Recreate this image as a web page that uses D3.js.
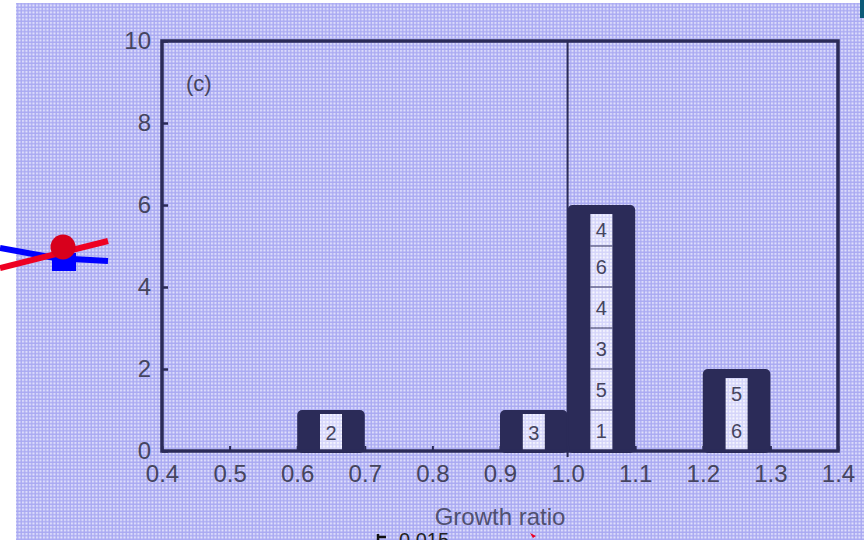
<!DOCTYPE html>
<html><head><meta charset="utf-8">
<script src="https://cdn.jsdelivr.net/npm/d3@7"></script>
<style>html,body{margin:0;padding:0;background:#fff;}svg{display:block;}</style>
</head><body>
<svg id="c" width="864" height="540"></svg>
<script>
// ---- data ----
const binStarts = [0.6, 0.9, 1.0, 1.2];
const binEnds   = [0.7, 1.0, 1.1, 1.3];
const counts    = [1, 1, 6, 2];
const cellLabels = [["2"], ["3"], ["1","5","3","4","6","4"], ["6","5"]]; // bottom to top
const xTicks = [0.4,0.5,0.6,0.7,0.8,0.9,1.0,1.1,1.2,1.3,1.4];
const yTicks = [0,2,4,6,8,10];
const refLine = 1.0;
const xTitle = "Growth ratio";
const panelTag = "(c)";

const svg = d3.select("#c");
const ink = "#2b2b58", txt = "#45455f";
const font = "'Liberation Sans', Arial, sans-serif";

const defs = svg.append("defs");
const pat = defs.append("pattern").attr("id","chk").attr("patternUnits","userSpaceOnUse")
  .attr("width",3.5).attr("height",3.5);
pat.append("rect").attr("width",3.5).attr("height",3.5).attr("fill","#a9a9f2");
pat.append("rect").attr("x",1).attr("y",1).attr("width",2).attr("height",2).attr("fill","#e4e4fc");
const pat2 = defs.append("pattern").attr("id","chk2").attr("patternUnits","userSpaceOnUse")
  .attr("width",3.5).attr("height",3.5);
pat2.append("rect").attr("width",3.5).attr("height",3.5).attr("fill","#d4d4fa");
pat2.append("rect").attr("x",1).attr("y",1).attr("width",2).attr("height",2).attr("fill","#fafaff");

// background
svg.append("rect").attr("x",16).attr("y",3).attr("width",848).attr("height",537).attr("fill","url(#chk)");
svg.append("rect").attr("x",860).attr("y",0).attr("width",4).attr("height",18).attr("fill","#0b5a78");

// fragment of neighbouring figure (left)
svg.append("path").attr("d","M0,248 L55,258 L108,261").attr("stroke","#0000ff").attr("stroke-width",6).attr("fill","none");
svg.append("rect").attr("x",52).attr("y",253).attr("width",24).attr("height",18).attr("fill","#0000ff");
svg.append("path").attr("d","M0,268 L108,241").attr("stroke","#ee0022").attr("stroke-width",6).attr("fill","none");
svg.append("circle").attr("cx",63).attr("cy",247).attr("r",12.5).attr("fill","#d8001c");

// bottom fragment (partly cut by the picture edge)
svg.append("path").attr("d","M378,540 L378,534 M378,537 L386,537").attr("stroke","#111").attr("stroke-width",2.5).attr("fill","none");
svg.append("text").attr("x",399).attr("y",547).attr("font-family",font).attr("font-size",20).attr("fill","#222").text("0.015");
svg.append("path").attr("d","M530,533 L536,536 L533,538 Z").attr("fill","#ee0022");

const x = d3.scaleLinear().domain([0.4,1.4]).range([162,838]);
const y = d3.scaleLinear().domain([0,10]).range([451,41]);

// bars
const bins = binStarts.map((s,i)=>({s, e:binEnds[i], n:counts[i], labels:cellLabels[i]}));
svg.append("g").selectAll("rect").data(bins).join("rect")
  .attr("x",d=>x(d.s)).attr("width",d=>x(d.e)-x(d.s))
  .attr("y",d=>y(d.n)).attr("height",d=>y(0)-y(d.n)+2)
  .attr("rx",5).attr("fill",ink);

// label boxes
const boxW = 22;
bins.forEach(b=>{
  const cx = x((b.s+b.e)/2);
  const g = svg.append("g");
  const top = y(b.n) + (b.n>1 ? 9 : 4);
  g.append("rect").attr("x",cx-boxW/2).attr("y",top).attr("width",boxW).attr("height",y(0)-top)
    .attr("fill","url(#chk2)");
  b.labels.forEach((lab,k)=>{
    const y0 = y(k), y1 = Math.max(y(k+1), top);
    if (k>0 && b.n>2) g.append("line").attr("x1",cx-boxW/2).attr("x2",cx+boxW/2).attr("y1",y0).attr("y2",y0).attr("stroke",ink).attr("stroke-width",1);
    g.append("text").attr("x",cx).attr("y",(y0+y1)/2+7).attr("text-anchor","middle")
      .attr("font-family",font).attr("font-size",20).attr("fill",txt).text(lab);
  });
});

// frame
svg.append("rect").attr("x",x(0.4)).attr("y",y(10)).attr("width",x(1.4)-x(0.4)).attr("height",y(0)-y(10))
  .attr("fill","none").attr("stroke",ink).attr("stroke-width",3.5);

// reference line
svg.append("line").attr("x1",x(refLine)).attr("x2",x(refLine)).attr("y1",y(10)).attr("y2",y(0)+6)
  .attr("stroke",ink).attr("stroke-width",2);

// axes (inward ticks)
const xAxis = d3.axisBottom(x).tickValues(xTicks).tickSizeInner(-5).tickSizeOuter(0).tickPadding(14)
  .tickFormat(d3.format(".1f"));
const gx = svg.append("g").attr("transform",`translate(0,${y(0)})`).call(xAxis);
gx.select(".domain").remove();
gx.selectAll("line").attr("stroke",ink).attr("stroke-width",2);
gx.selectAll("text").attr("font-family",font).attr("font-size",24).attr("fill",txt);

const yAxis = d3.axisLeft(y).tickValues(yTicks).tickSizeInner(-6).tickSizeOuter(0).tickPadding(11)
  .tickFormat(d3.format("d"));
const gy = svg.append("g").attr("transform",`translate(${x(0.4)},0)`).call(yAxis);
gy.select(".domain").remove();
gy.selectAll("line").attr("stroke",ink).attr("stroke-width",2.5);
gy.selectAll("text").attr("font-family",font).attr("font-size",24).attr("fill",txt).attr("dy","0.3em");

// titles
svg.append("text").attr("x",(x(0.4)+x(1.4))/2).attr("y",525).attr("text-anchor","middle")
  .attr("font-family",font).attr("font-size",24).attr("fill","#505070").text(xTitle);
svg.append("text").attr("x",186).attr("y",91).attr("font-family",font).attr("font-size",22).attr("fill",txt).text(panelTag);
</script>
</body></html>
